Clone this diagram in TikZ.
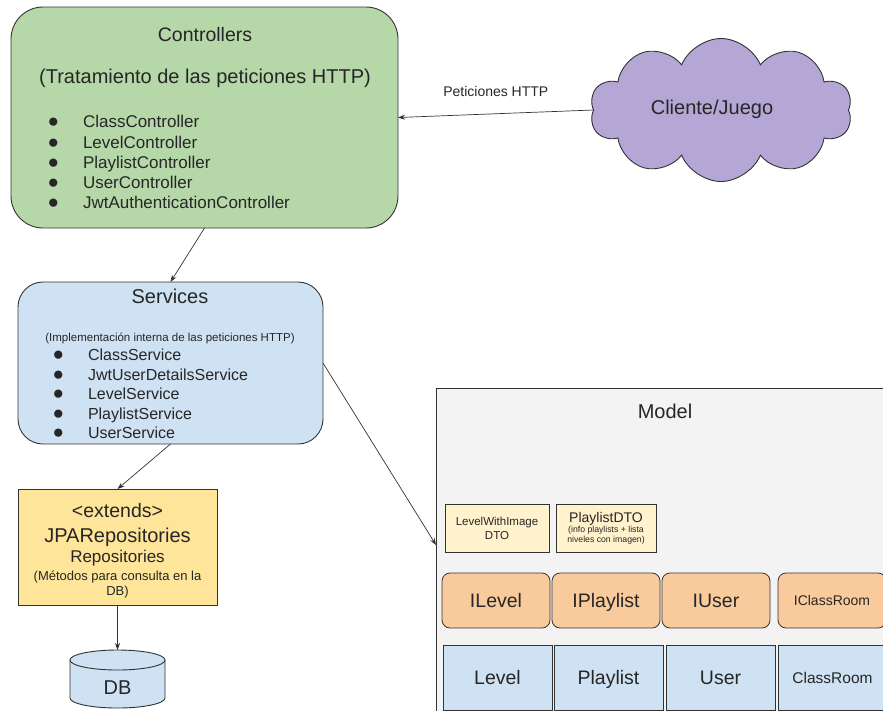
\documentclass[tikz,border=0pt]{standalone}
\usepackage{fontspec}
\setmainfont{Liberation Sans}
\usetikzlibrary{positioning,arrows.meta,shapes.symbols}

\definecolor{ctrlgreen}{HTML}{B6D7A8}
\definecolor{servblue}{HTML}{CFE2F3}
\definecolor{repoyellow}{HTML}{FFE599}
\definecolor{dtoyellow}{HTML}{FFF2CC}
\definecolor{ifaceorange}{HTML}{F9CB9C}
\definecolor{cloudpurple}{HTML}{B4A7D6}
\definecolor{modelgray}{HTML}{F3F3F3}
\definecolor{edge}{HTML}{333333}

\newcommand{\fsz}[2]{\fontsize{#1}{#2}\selectfont}
\newcommand{\blt}[1]{\makebox[#1][l]{\fsz{19}{19}●}}

\begin{document}
\begin{tikzpicture}[
    x=1pt, y=-1pt,
    >={Stealth[length=7pt,width=5pt]},
    every node/.style={inner sep=0pt, outer sep=0pt, text=black!85},
    layer/.style={draw=edge, line width=0.9pt},
    itemlist/.style={align=left, anchor=north west},
    dto/.style={draw=edge, line width=0.8pt, fill=dtoyellow, minimum width=104pt, minimum height=48pt, align=center},
    iface/.style={draw=edge, line width=0.8pt, fill=ifaceorange, rounded corners=8pt, minimum width=108pt, minimum height=55pt, text height=14pt, text depth=0pt},
    entity/.style={draw=edge, line width=0.8pt, fill=servblue, minimum width=109pt, minimum height=65pt, text height=14pt, text depth=0pt},
    dbshape/.style={draw=edge, line width=0.9pt, fill=servblue},
    link/.style={->, draw=edge, line width=0.7pt}
]
\useasboundingbox (0,0) rectangle (883,710);
\clip (0,0) rectangle (883,710);

% controller layer
\node[layer, fill=ctrlgreen, rounded corners=32pt, minimum width=387pt, minimum height=221pt, anchor=north west] (ctrl) at (11,7) {};
\node[font=\fsz{19.5}{23}] (ctrltitle) at (205,35) {Controllers};
\node[font=\fsz{20}{24}] (ctrlsub) at (205,78) {(Tratamiento de las peticiones HTTP)};
\node[itemlist, font=\fsz{17}{20.25}] (ctrlitems) at (47.5,115.5) {\blt{35.5pt}ClassController\\
\blt{35.5pt}LevelController\\
\blt{35.5pt}PlaylistController\\
\blt{35.5pt}UserController\\
\blt{35.5pt}JwtAuthenticationController};

% client
\node[cloud, cloud puffs=10, cloud puff arc=135, aspect=1.83, draw=edge, line width=0.9pt, fill=cloudpurple, minimum width=262pt, minimum height=143pt] (client) at (721,110) {};
\node[font=\fsz{20}{24}] (clientlabel) at (712,109) {Cliente/Juego};

% service layer
\node[layer, fill=servblue, rounded corners=25pt, minimum width=305pt, minimum height=162pt, anchor=north west] (serv) at (18,282) {};
\node[font=\fsz{20}{24}] (servtitle) at (170,296) {Services};
\node[font=\fsz{11.5}{14}] (servsub) at (170,338) {(Implementación interna de las peticiones HTTP)};
\node[itemlist, font=\fsz{16}{19.5}] (servitems) at (52.5,349) {\blt{35.5pt}ClassService\\
\blt{35.5pt}JwtUserDetailsService\\
\blt{35.5pt}LevelService\\
\blt{35.5pt}PlaylistService\\
\blt{35.5pt}UserService};

% repositories and database
\node[layer, fill=repoyellow, minimum width=199pt, minimum height=116pt, anchor=north west] (repo) at (18,489) {};
\node[font=\fsz{19.5}{23}] (repoext) at (117.5,511) {<extends>};
\node[font=\fsz{20}{24}] (repojpa) at (117.5,537) {JPARepositories};
\node[font=\fsz{17}{20}] (reponame) at (117.5,558) {Repositories};
\node[align=center, font=\fsz{13}{15}, anchor=north] (repodesc) at (117.5,571) {(Métodos para consulta en la\\DB)};

\coordinate (dbtop) at (117.5,650);
\fill[servblue] (70,660) -- (70,698) arc[start angle=180, end angle=360, x radius=47.5pt, y radius=10pt] -- (165,660) -- cycle;
\draw[dbshape] (70,660) -- (70,698) arc[start angle=180, end angle=360, x radius=47.5pt, y radius=10pt] -- (165,660);
\draw[dbshape] (117.5,660) ellipse [x radius=47.5pt, y radius=10pt];
\node[font=\fsz{20}{24}] (db) at (117.5,688) {DB};

% model package
\node[layer, fill=modelgray, minimum width=480pt, minimum height=340pt, anchor=north west] (model) at (436,388) {};
\node[font=\fsz{20}{24}] (modeltitle) at (665,411) {Model};
\node[dto, font=\fsz{11.5}{14}, anchor=north west] (lvldto) at (445,504) {LevelWithImage\\DTO};
\node[dto, minimum width=100pt, right=7pt of lvldto, font=\fsz{8.7}{10}] (pldto) {{\fsz{14}{16}PlaylistDTO}\\(info playlists + lista\\niveles con imagen)};

\node[iface, font=\fsz{19.5}{23}, anchor=north west] (ilevel) at (442,573) {ILevel};
\node[iface, font=\fsz{19.5}{23}, right=2pt of ilevel] (iplaylist) {IPlaylist};
\node[iface, font=\fsz{19.5}{23}, right=2pt of iplaylist] (iuser) {IUser};
\node[iface, font=\fsz{14}{17}, text height=10pt, right=8pt of iuser] (iclassroom) {IClassRoom};

\node[entity, font=\fsz{19.5}{23}, anchor=north west] (level) at (443,645) {Level};
\node[entity, font=\fsz{19.5}{23}, right=2pt of level] (playlist) {Playlist};
\node[entity, font=\fsz{19.5}{23}, right=3pt of playlist] (user) {User};
\node[entity, font=\fsz{15.5}{18}, text height=11pt, right=3pt of user] (classroom) {ClassRoom};

% connectors
\draw[link] (client.west) -- node[above=17pt, font=\fsz{14}{16}] (httplabel) {Peticiones HTTP} (ctrl.east);
\draw[link] (ctrl.south) -- (serv.north);
\draw[link] (serv.south) -- (repo.north);
\draw[link] (repo.south) -- (dbtop);
\draw[link] (serv.east) -- ([yshift=-157pt]model.north west);
\end{tikzpicture}
\end{document}
